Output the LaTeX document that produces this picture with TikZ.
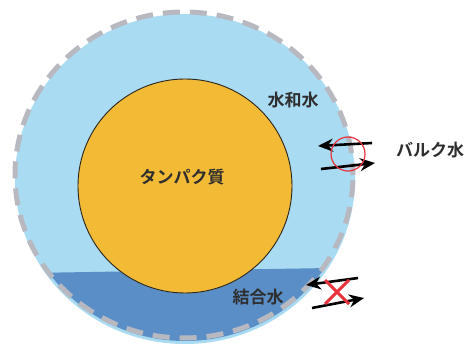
\documentclass[tikz,border=0pt]{standalone}
\usepackage{fontspec}
\newfontfamily\jp{Noto Sans CJK JP}[BoldFont={Noto Sans CJK JP Bold}]
\usetikzlibrary{arrows.meta}
\definecolor{lightwater}{HTML}{A9DBF2}
\definecolor{boundwater}{HTML}{5A8EC6}
\definecolor{protein}{HTML}{F3BA35}
\definecolor{dashgray}{HTML}{B8B8C0}
\definecolor{crossred}{HTML}{E8323C}
\definecolor{txt}{HTML}{2E2E2E}
\tikzset{
  label/.style={font=\jp\bfseries\fontsize{17}{17}\selectfont, text=txt, inner sep=0pt},
  flowarrow/.style={line width=2.6pt, draw=black, arrows={-Stealth[length=15pt,width=13pt,inset=5pt]}},
  redmark/.style={draw=crossred},
}
\begin{document}
\begin{tikzpicture}[x=1pt,y=-1pt]
\useasboundingbox (0,0) rectangle (468,347);
\clip (0,0) rectangle (468,347);
% hydration water (light blue)
\fill[lightwater] (185,179) ellipse[x radius=170pt, y radius=165pt];
% bound water (dark blue)
\begin{scope}
  \clip (185,179) ellipse[x radius=167pt, y radius=162pt];
  \fill[boundwater] (0,273.5) -- (360,267.5) -- (360,360) -- (0,360) -- cycle;
\end{scope}
% dashed boundary
\draw[dashgray, line width=5pt, dash pattern=on 17pt off 10pt, dash phase=5pt]
  (184,175) ellipse[x radius=169pt, y radius=163pt];
% protein
\draw[protein, fill=protein] (185,186) circle[radius=107pt];
\draw[black!85, line width=0.9pt] (185,186) circle[radius=107pt];
% labels
\node[label] (prot) at (182,177) {タンパク質};
\node[label] (hyd) at (293,100) {水和水};
\node[label] (bulk) at (430,150) {バルク水};
\node[label] (bound) at (258,297) {結合水};
% exchange arrows (top)
\coordinate (a1s) at (372,143);
\coordinate (a1e) at (318,146);
\coordinate (a2s) at (321,169);
\coordinate (a2e) at (375,163);
\draw[flowarrow] (a1s) -- (a1e);
\draw[flowarrow] (a2s) -- (a2e);
\node[redmark, circle, line width=1.2pt, minimum size=34pt, inner sep=0pt] (ring) at (348,154) {};
% blocked arrows (bottom)
\coordinate (b1s) at (358,278);
\coordinate (b1e) at (306,285);
\coordinate (b2s) at (312,308);
\coordinate (b2e) at (364,298);
\draw[flowarrow] (b1s) -- (b1e);
\draw[flowarrow] (b2s) -- (b2e);
\coordinate (xc) at (337,292);
\draw[redmark, line width=3pt] ([shift={(-12,-12)}]xc) -- ([shift={(12,12)}]xc);
\draw[redmark, line width=3pt] ([shift={(-12,12)}]xc) -- ([shift={(12,-12)}]xc);
\end{tikzpicture}
\end{document}
